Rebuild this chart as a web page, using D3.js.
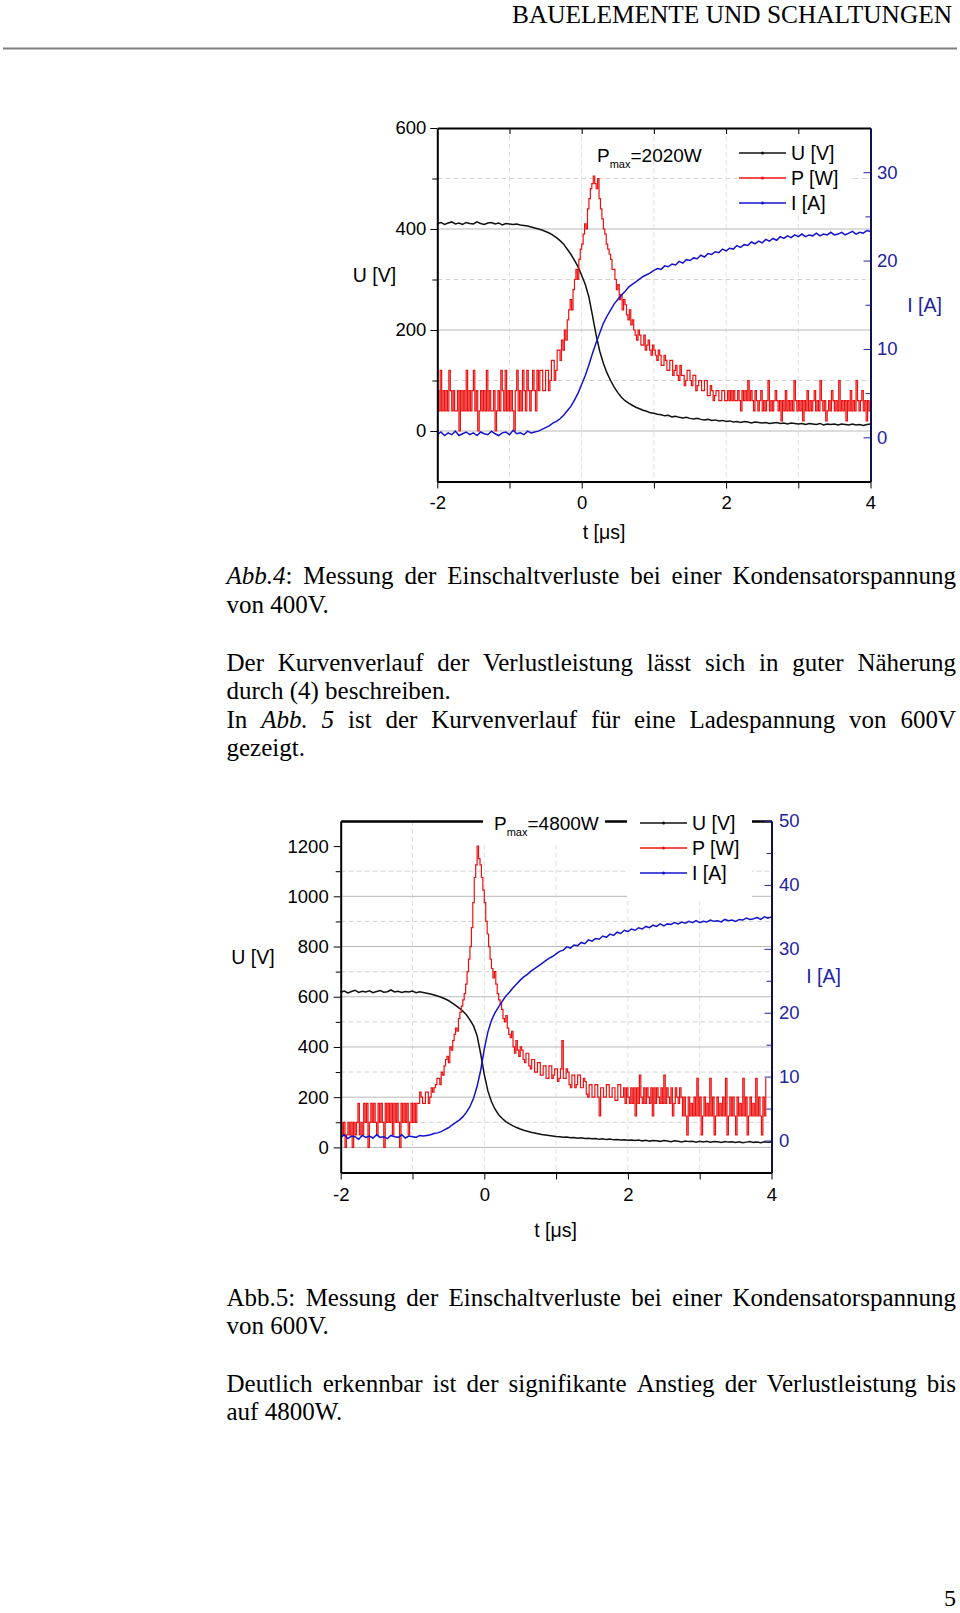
<!DOCTYPE html>
<html>
<head>
<meta charset="utf-8">
<script src="https://cdn.jsdelivr.net/npm/d3@7"></script>
<style>
body { margin: 0; background: #fff; }
svg { display: block; }
</style>
</head>
<body>
<svg id="page"></svg>
<script>
// measured samples, t runs from -2 us to 4 us
var t0 = -2
var dtUI = 0.05 // step of U and I samples [us]
var dtP = 0.02 // step of P samples [us]
var pScale = 4 // P [W] is drawn as P/4 on the U axis

// Abb.4 : 400V
var u400 = [411, 413, 409, 412, 414, 410, 412, 409, 413, 411, 410, 414, 411, 409, 412, 413, 410, 412, 408, 411, 410, 409, 410, 408, 407,
    406, 404, 402, 400, 398, 395, 392, 388, 383, 377, 370, 360, 350, 338, 325, 308, 290, 265, 228, 190, 158, 134, 115, 100, 87, 76, 67, 60, 55, 51, 47, 44, 41, 39, 36, 35,
    33, 32, 30, 31, 28, 29, 27, 26, 27, 25,
    24, 25, 23, 22, 23, 21, 22, 20, 21, 19,
    20, 18, 19, 17, 19, 18, 16, 18, 17, 16,
    17, 15, 16, 17, 15, 16, 14, 16, 15, 14,
    15, 13, 15, 14, 13, 15, 12, 14, 13, 14,
    12, 14, 13, 12, 14, 12, 13, 11, 13, 14]
var i400 = [0.3, 0.6, 0.2, 0.5, 0.3, 0.7, 0.2, 0.4, 0.6, 0.3, 0.5, 0.2, 0.6, 0.4, 0.3, 0.7, 0.4, 0.2, 0.5, 0.6, 0.3, 0.8, 0.4, 0.5, 0.3, 0.7, 0.5, 0.6,
    0.7, 0.9, 1.1, 1.3, 1.6, 1.8, 2.1, 2.5, 3.0, 3.5, 4.2, 5.0, 6.0, 7.0, 8.2, 9.5, 10.7, 11.8, 12.9, 13.7, 14.4, 15.1, 15.6, 16.1, 16.5, 17.0, 17.3, 17.6, 17.9, 18.2, 18.4, 18.6, 18.9,
    19.1, 19.0, 19.4, 19.3, 19.6, 19.5, 19.9, 19.7, 20.1, 20.0,
    20.3, 20.2, 20.6, 20.4, 20.8, 20.7, 21.0, 20.9, 21.3, 21.1,
    21.4, 21.3, 21.7, 21.5, 21.8, 21.7, 22.1, 21.9, 22.2, 22.0,
    22.4, 22.2, 22.5, 22.3, 22.7, 22.5, 22.8, 22.6, 22.9, 22.7,
    23.0, 22.7, 22.9, 22.8, 23.1, 22.8, 23.0, 22.9, 23.2, 22.9,
    23.0, 23.2, 22.9, 23.1, 23.3, 23.0, 23.2, 23.1, 23.4, 23.3]
var p400 = [320, 160, 480, 160, 320, 160, 320, 160, 480, 320,
    160, 320, 160, 160, 320, 0, 320, 160, 320, 160,
    480, 160, 320, 160, 320, 480, 160, 320, 0, 160,
    320, 160, 320, 160, 480, 160, 320, 160, 160, 320,
    0, 160, 320, 160, 480, 320, 160, 480, 160, 320,
    160, 320, 160, 0, 320, 480, 160, 320, 160, 480,
    320, 160, 480, 320, 160, 320, 480, 320, 160, 480,
    320, 480, 480, 320, 320, 480, 480, 320, 400, 560,
    560, 400, 480, 640, 640, 560, 720, 640, 800, 720,
    880, 960, 1040, 960, 1120, 1200, 1280, 1200, 1360, 1440,
    1480, 1560, 1640, 1600, 1760, 1840, 1920, 1960, 2020, 1960,
    1920, 2000, 1840, 1760, 1680, 1600, 1560, 1480, 1440, 1400,
    1360, 1280, 1280, 1200, 1120, 1160, 1040, 1080, 960, 1040,
    1000, 920, 880, 960, 840, 880, 800, 760, 720, 800,
    760, 680, 680, 760, 640, 680, 720, 640, 600, 680,
    640, 600, 560, 640, 600, 520, 520, 600, 560, 480,
    480, 560, 560, 440, 480, 520, 440, 400, 520, 440,
    440, 360, 400, 480, 480, 400, 360, 440, 440, 320,
    360, 400, 400, 320, 320, 400, 400, 280, 280, 360,
    320, 240, 280, 320, 320, 240, 240, 320, 320, 240,
    240,
    320, 240, 320, 240, 320, 240, 240, 320, 240, 160,
    320, 240, 320, 240, 400, 240, 320, 240, 160, 320,
    240, 160, 240, 320, 160, 240, 160, 240, 400, 160,
    240, 160, 240, 320, 240, 160, 240, 80, 240, 160,
    320, 160, 240, 160, 240, 160, 400, 240, 160, 240,
    160, 240, 80, 240, 160, 320, 160, 240, 160, 240,
    320, 160, 240, 160, 400, 240, 160, 240, 80, 160,
    240, 160, 320, 240, 160, 240, 160, 400, 160, 240,
    160, 240, 80, 240, 160, 320, 160, 240, 160, 400,
    240, 160, 240, 320, 160, 240, 80, 240, 160, 240]

// Abb.5 : 600V
var u600 = [618, 623, 615, 621, 626, 617, 622, 619, 624, 616, 621, 625, 618, 620, 627, 619, 622, 617, 621, 619, 623, 616, 620, 617,
    614, 611, 607, 603, 598, 592, 585, 576, 566, 555, 543, 528, 508, 484, 445, 372, 290, 225, 182, 152, 130, 115, 103, 94, 86, 79, 73, 68, 64, 60, 57, 54, 51, 49, 47, 45, 43,
    42, 40, 41, 38, 39, 36, 38, 35, 36, 34,
    35, 32, 34, 31, 33, 30, 31, 29, 30, 28,
    29, 27, 29, 26, 28, 25, 27, 26, 24, 27,
    25, 23, 26, 24, 22, 25, 23, 24, 21, 24,
    22, 24, 21, 23, 22, 20, 23, 21, 22, 20,
    22, 19, 21, 23, 20, 21, 19, 22, 20, 21]
var i600 = [0.5, 0.9, 0.3, 0.7, 0.6, 0.2, 0.8, 0.5, 0.7, 0.4, 0.9, 0.5, 0.6, 0.3, 0.8, 0.6, 0.5, 0.9, 0.4, 0.7, 0.6, 0.5, 0.8, 0.7,
    0.8, 0.9, 1.1, 1.2, 1.4, 1.7, 2.0, 2.4, 2.8, 3.2, 3.7, 4.4, 5.3, 6.6, 8.5, 11.0, 14.3, 17.0, 18.8, 20.0, 20.9, 21.8, 22.6, 23.2, 23.9, 24.5, 25.1, 25.6, 26.0, 26.5, 26.9, 27.3, 27.7, 28.1, 28.5, 28.8, 29.2,
    29.6, 29.8, 30.3, 30.1, 30.6, 30.5, 31.0, 30.8, 31.4, 31.2,
    31.6, 31.5, 32.0, 31.8, 32.3, 32.1, 32.6, 32.4, 32.9, 32.7,
    33.1, 32.9, 33.3, 33.1, 33.5, 33.3, 33.7, 33.5, 33.9, 33.6,
    33.9, 33.8, 34.1, 33.9, 34.2, 34.0, 34.3, 34.1, 34.4, 34.1,
    34.3, 34.2, 34.5, 34.3, 34.4, 34.2, 34.6, 34.4, 34.5, 34.3,
    34.6, 34.5, 34.8, 34.6, 34.7, 34.9, 34.6, 35.0, 34.8, 35.0]
var p600 = [400, 200, 400, 0, 200, 400, 200, 400, 0, 400,
    200, 400, 700, 200, 400, 200,
    700, 400, 700, 0, 400, 700, 400, 700, 400, 200,
    700, 400, 700, 400, 0, 700, 400, 700, 400, 700,
    200, 700, 400, 700, 400, 0, 700, 400, 700, 400,
    700, 200, 400, 700, 400, 700,
    400, 700, 700, 880, 800, 700, 700, 880, 880, 700,
    800, 950, 880, 950, 1000, 1100, 1100, 1000, 1200, 1150,
    1300, 1400, 1450, 1350, 1600, 1550, 1700, 1800, 1900, 1850,
    2050, 2150, 2250, 2350, 2450, 2600, 2800, 3000, 3200, 3500,
    3900, 4300, 4500, 4800, 4600, 4500, 4300, 4100, 3900, 3600,
    3400, 3200, 3000, 2850, 2700, 2800, 2600, 2450, 2350, 2300,
    2200, 2050, 2000, 2100, 1900, 1800, 1750, 1850, 1600, 1500,
    1700, 1550, 1450, 1600, 1550, 1400, 1350, 1500, 1500, 1300,
    1250, 1400, 1400, 1200, 1200, 1350, 1350, 1150, 1150, 1300,
    1300, 1100, 1100, 1300, 1300, 1100, 1150, 1250, 1250, 1050,
    1100, 1250, 1700, 1100, 1100, 1250, 1200, 1000, 950, 1150,
    1150, 950, 1000, 1150, 1150, 950, 950, 1100, 1050, 850,
    800, 1000, 1000, 800, 800, 1000, 1000, 800, 500, 950,
    950, 800, 800, 1000, 1000, 800, 800, 950, 950, 750,
    750, 1000, 1000, 800, 800,
    950, 700, 950, 800, 700, 950, 700, 950, 500, 950,
    700, 1150, 800, 700, 950, 700, 950, 800, 700, 950,
    500, 950, 700, 950, 800, 700, 950, 700, 1150, 700,
    950, 800, 700, 950, 500, 700, 950, 800, 700, 950,
    800, 500, 800, 500, 200, 800, 500, 700, 500, 800,
    500, 1100, 500, 800, 200, 500, 800, 500, 700, 500,
    1100, 500, 800, 200, 500, 800, 500, 700, 500, 800,
    500, 1100, 200, 500, 800, 500, 800, 500, 200, 800,
    500, 700, 500, 1100, 500, 800, 200, 500, 800, 500,
    700, 500, 1100, 500, 800, 500, 200, 800, 500, 1100]

// axes
var tDomain = [-2, 4]
var tTicks = [-2, -1, 0, 1, 2, 3, 4]
var tLabels = [-2, 0, 2, 4]
var tGrid = [-1, 0, 1, 2, 3]
var u400Major = [0, 200, 400, 600]
var u400Minor = [100, 300, 500]
var u400GridSolid = [0, 200, 400]
var i400Major = [0, 10, 20, 30]
var i400Minor = [5, 15, 25]
var u600Major = [0, 200, 400, 600, 800, 1000, 1200]
var u600Minor = [100, 300, 500, 700, 900, 1100]
var u600GridSolid = [0, 200, 400, 600, 800, 1000]
var i600Major = [0, 10, 20, 30, 40, 50]
var i600Minor = [5, 15, 25, 35, 45]
var legendLabels = ["U [V]", "P [W]", "I [A]"]
var pmax400 = "=2020W"
var pmax600 = "=4800W"

var cU = "#111", cP = "#ee1010", cI = "#1414cc", cAxisI = "#2323a0"
var sans = "'Liberation Sans', Arial, sans-serif"
var serif = "'Liberation Serif', 'Times New Roman', serif"

var svg = d3.select("#page").attr("width", 960).attr("height", 1613)

// ---- header ----
svg.append("text")
    .attr("x", 952).attr("y", 23)
    .attr("text-anchor", "end")
    .attr("font-family", serif).attr("font-size", 25)
    .attr("textLength", 440).attr("lengthAdjust", "spacingAndGlyphs")
    .text("BAUELEMENTE UND SCHALTUNGEN")
svg.append("line")
    .attr("x1", 3).attr("x2", 957).attr("y1", 48.5).attr("y2", 48.5)
    .attr("stroke", "#808080").attr("stroke-width", 2)

// ---- charts ----
var chart400 = {
    id: "c400", x0: 437.3, x1: 870.5, yTop: 128, yBot: 481.5,
    uDomain: [-100, 600], iDomain: [-5, 35],
    uMajor: u400Major, uMinor: u400Minor, gridSolid: u400GridSolid,
    iMajor: i400Major, iMinor: i400Minor,
    u: u400, i: i400, p: p400, pmax: pmax400,
    uPad: 4, iPad: 6.5, tPad: 7.5, topTicks: true, topWidth: 2,
    uTitle: [374.5, 282], iTitle: [924.5, 311.5], tTitle: [604, 539],
    pm: [597, 161.5], legX: 739, legY: [153, 178, 203],
    boxes: [[737, 137, 113, 76]]
}
var chart600 = {
    id: "c600", x0: 340.7, x1: 771.5, yTop: 821, yBot: 1172.5,
    uDomain: [-100, 1300], iDomain: [-5, 50],
    uMajor: u600Major, uMinor: u600Minor, gridSolid: u600GridSolid,
    iMajor: i600Major, iMinor: i600Minor,
    u: u600, i: i600, p: p600, pmax: pmax600,
    uPad: 5, iPad: 7.5, tPad: 8.5, topTicks: false, topWidth: 2.5,
    uTitle: [253, 964], iTitle: [823.5, 982.5], tTitle: [555.5, 1236.5],
    pm: [494, 830], legX: 640, legY: [823, 848, 873],
    boxes: [[483, 808, 122, 34], [627, 808, 125, 92]]
}

drawChart(chart400)
drawChart(chart600)

function drawChart(c) {
    var g = svg.append("g").attr("font-family", sans)
    var x = d3.scaleLinear().domain(tDomain).range([c.x0, c.x1])
    var yU = d3.scaleLinear().domain(c.uDomain).range([c.yBot, c.yTop])
    var yI = d3.scaleLinear().domain(c.iDomain).range([c.yBot, c.yTop])

    // grid lines
    g.append("g").selectAll("line").data(c.uMinor).enter().append("line")
        .attr("x1", c.x0).attr("x2", c.x1)
        .attr("y1", function (d) { return yU(d) }).attr("y2", function (d) { return yU(d) })
        .attr("stroke", "#d4d4d4").attr("stroke-dasharray", "5,3")
    g.append("g").selectAll("line").data(tGrid).enter().append("line")
        .attr("x1", function (d) { return x(d) }).attr("x2", function (d) { return x(d) })
        .attr("y1", c.yTop).attr("y2", c.yBot)
        .attr("stroke", "#e0e0e0").attr("stroke-dasharray", "5,3")
    g.append("g").selectAll("line").data(c.gridSolid).enter().append("line")
        .attr("x1", c.x0).attr("x2", c.x1)
        .attr("y1", function (d) { return yU(d) }).attr("y2", function (d) { return yU(d) })
        .attr("stroke", "#b8b8b8")

    // clip
    svg.append("clipPath").attr("id", "clip-" + c.id)
        .append("rect").attr("x", c.x0).attr("y", c.yTop)
        .attr("width", c.x1 - c.x0).attr("height", c.yBot - c.yTop)
    var data = g.append("g").attr("clip-path", "url(#clip-" + c.id + ")")

    var lineU = d3.line()
        .x(function (d, k) { return x(t0 + k * dtUI) })
        .y(function (d) { return yU(d) })
    var lineP = d3.line()
        .curve(d3.curveStepAfter)
        .x(function (d, k) { return x(t0 + k * dtP) })
        .y(function (d) { return yU(d / pScale) })
    var lineI = d3.line()
        .x(function (d, k) { return x(t0 + k * dtUI) })
        .y(function (d) { return yI(d) })

    data.append("path").attr("d", lineU(c.u))
        .attr("fill", "none").attr("stroke", cU).attr("stroke-width", 1.5)
    data.append("path").attr("d", lineP(c.p))
        .attr("fill", "none").attr("stroke", cP).attr("stroke-width", 1.2)
    data.append("path").attr("d", lineI(c.i))
        .attr("fill", "none").attr("stroke", cI).attr("stroke-width", 1.5)

    // axes
    var fmt = d3.format("d")
    var axL = g.append("g").attr("transform", "translate(" + c.x0 + ",0)")
        .call(d3.axisLeft(yU).tickValues(c.uMajor).tickSize(7).tickSizeOuter(0).tickPadding(c.uPad).tickFormat(fmt))
    g.append("g").attr("transform", "translate(" + c.x0 + ",0)")
        .call(d3.axisLeft(yU).tickValues(c.uMinor).tickSize(5).tickSizeOuter(0).tickFormat(""))
        .select(".domain").remove()
    var axB = g.append("g").attr("transform", "translate(0," + c.yBot + ")")
        .call(d3.axisBottom(x).tickValues(tTicks).tickSize(7).tickSizeOuter(0).tickPadding(c.tPad)
            .tickFormat(function (d) { return tLabels.indexOf(d) >= 0 ? d : "" }))
    var axT = g.append("g").attr("transform", "translate(0," + c.yTop + ")")
        .call(d3.axisTop(x).tickValues(c.topTicks ? [-1, 0, 1, 2, 3] : []).tickSize(-6).tickSizeOuter(0).tickFormat(""))
    var axR = g.append("g").attr("transform", "translate(" + c.x1 + ",0)")
        .call(d3.axisRight(yI).tickValues(c.iMajor).tickSize(-7).tickSizeOuter(0).tickPadding(c.iPad).tickFormat(fmt))
    g.append("g").attr("transform", "translate(" + c.x1 + ",0)")
        .call(d3.axisRight(yI).tickValues(c.iMinor).tickSize(-5).tickSizeOuter(0).tickFormat(""))
        .selectAll("line").attr("stroke", cAxisI)

    ;[axL, axB, axT, axR].forEach(function (a) {
        a.attr("font-family", sans).attr("font-size", 18.5)
        a.selectAll("text").attr("fill", "#000")
    })
    axL.select(".domain").attr("stroke-width", 2)
    axB.select(".domain").attr("stroke-width", 2)
    axT.select(".domain").attr("stroke-width", c.topWidth)
    axR.select(".domain").attr("stroke", cAxisI).attr("stroke-width", 2)
    axR.selectAll("line").attr("stroke", cAxisI)
    axR.selectAll("text").attr("fill", cAxisI)

    // white boxes behind annotation and legend
    c.boxes.forEach(function (b) {
        g.append("rect").attr("x", b[0]).attr("y", b[1]).attr("width", b[2]).attr("height", b[3])
            .attr("fill", "#fff")
    })

    // titles
    g.append("text").attr("x", c.uTitle[0]).attr("y", c.uTitle[1])
        .attr("text-anchor", "middle").attr("font-size", 19.5).text("U [V]")
    g.append("text").attr("x", c.iTitle[0]).attr("y", c.iTitle[1])
        .attr("text-anchor", "middle").attr("font-size", 19.5).attr("fill", cAxisI).text("I [A]")
    g.append("text").attr("x", c.tTitle[0]).attr("y", c.tTitle[1])
        .attr("text-anchor", "middle").attr("font-size", 19.5).text("t [μs]")

    // P max annotation
    var pm = g.append("text").attr("x", c.pm[0]).attr("y", c.pm[1]).attr("font-size", 19)
    pm.append("tspan").text("P")
    pm.append("tspan").attr("font-size", 11).attr("dy", 6).text("max")
    pm.append("tspan").attr("dy", -6).text(c.pmax)

    // legend
    var cols = [cU, cP, cI]
    legendLabels.forEach(function (lab, k) {
        var ly = c.legY[k]
        g.append("line").attr("x1", c.legX).attr("x2", c.legX + 47).attr("y1", ly).attr("y2", ly)
            .attr("stroke", cols[k]).attr("stroke-width", 1.4)
        g.append("circle").attr("cx", c.legX + 23.5).attr("cy", ly).attr("r", 1.5).attr("fill", cols[k])
        g.append("text").attr("x", c.legX + 52).attr("y", ly + 7).attr("font-size", 19.5).text(lab)
    })
}

// ---- body text ----
var body = svg.append("g").attr("font-family", serif).attr("font-size", 25)
var textLeft = 226.5, textRight = 956
var lines = [
    ["*Abb.4*: Messung der Einschaltverluste bei einer Kondensatorspannung", 584, true],
    ["von 400V.", 612.5, false],
    ["Der Kurvenverlauf der Verlustleistung lässt sich in guter Näherung", 670.5, true],
    ["durch (4) beschreiben.", 699, false],
    ["In *Abb. 5* ist der Kurvenverlauf für eine Ladespannung von 600V", 727.5, true],
    ["gezeigt.", 756, false],
    ["Abb.5: Messung der Einschaltverluste bei einer Kondensatorspannung", 1305.5, true],
    ["von 600V.", 1334, false],
    ["Deutlich erkennbar ist der signifikante Anstieg der Verlustleistung bis", 1391.5, true],
    ["auf 4800W.", 1420, false]
]
lines.forEach(function (l) { textLine(l[0], l[1], l[2]) })

// page number
svg.append("text").attr("x", 956).attr("y", 1606).attr("text-anchor", "end")
    .attr("font-family", serif).attr("font-size", 24).text("5")

// split a line in words, '*' switches italic on/off
function parseWords(str) {
    var words = [], cur = [], seg = "", ital = false
    for (var k = 0; k < str.length; k++) {
        var ch = str[k]
        if (ch == "*") {
            if (seg) cur.push({ t: seg, i: ital })
            seg = ""
            ital = !ital
        } else if (ch == " ") {
            if (seg) cur.push({ t: seg, i: ital })
            seg = ""
            if (cur.length) words.push(cur)
            cur = []
        } else {
            seg += ch
        }
    }
    if (seg) cur.push({ t: seg, i: ital })
    if (cur.length) words.push(cur)
    return words
}

function textLine(str, y, justify) {
    var words = parseWords(str)
    var nodes = words.map(function (w) {
        var t = body.append("text").attr("y", y)
        w.forEach(function (s) {
            t.append("tspan").attr("font-style", s.i ? "italic" : "normal").text(s.t)
        })
        return t
    })
    var widths = nodes.map(function (n) { return n.node().getComputedTextLength() })
    var gap = 25 * 0.25
    if (justify) gap = (textRight - textLeft - d3.sum(widths)) / (words.length - 1)
    var xx = textLeft
    nodes.forEach(function (n, k) {
        n.attr("x", xx)
        xx += widths[k] + gap
    })
}
</script>
</body>
</html>
